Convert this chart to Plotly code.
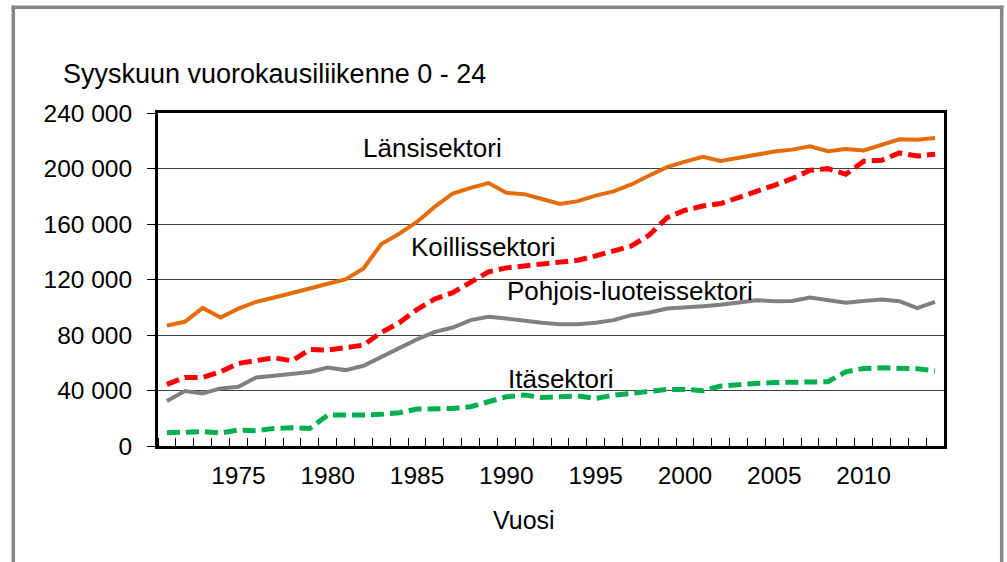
import plotly.graph_objects as go

years = list(range(1971, 2015))

lansi = [86900, 89500, 99500, 92600, 99000, 103900, 107000, 110000, 113500, 116900,
         120000, 128000, 145500, 153000, 161500, 172500, 182000, 186000, 189500, 182500,
         181500, 178000, 174500, 176500, 180500, 183500, 188500, 195000, 201000, 205000,
         208500, 205500, 207800, 210500, 212200, 213600, 216000, 212400, 214000, 213000,
         217200, 221000, 220800, 222000]
koillis = [44400, 49400, 49400, 53500, 59500, 61200, 63600, 61400, 69600, 69100,
           71300, 72700, 81800, 88800, 98400, 106000, 110500, 118300, 125500, 128400,
           129800, 131500, 132700, 133900, 137000, 140400, 144200, 152000, 164600, 169900,
           173000, 174700, 178800, 183100, 187900, 192700, 198700, 199900, 195800, 205200,
           205900, 211200, 209000, 210200]
pohjois = [32400, 39600, 37900, 41500, 42700, 49400, 50600, 52300, 53300, 56600,
           54700, 57800, 64300, 70100, 76800, 82300, 85400, 90700, 93100, 91900,
           90000, 88800, 87800, 87800, 88800, 90700, 94300, 96200, 99100, 100300,
           100800, 101800, 103200, 105100, 104400, 104500, 107000, 105100, 103200, 104500,
           105600, 104400, 99400, 103900]
ita = [9600, 10300, 10300, 9400, 11500, 11000, 12700, 13200, 12700, 22300,
       22100, 22300, 22800, 24000, 26600, 26600, 27100, 28300, 31900, 35500,
       36700, 35000, 35500, 36000, 34300, 36700, 37900, 39800, 40800, 40800,
       39800, 43200, 44600, 45100, 45800, 46100, 46800, 46300, 53500, 55900,
       56400, 56400, 55700, 54200]

x_tickvals = [1975, 1980, 1985, 1990, 1995, 2000, 2005, 2010]
x_ticktext = ["1975", "1980", "1985", "1990", "1995", "2000", "2005", "2010"]
y_tickvals = [0, 40000, 80000, 120000, 160000, 200000, 240000]
y_ticktext = ["0", "40 000", "80 000", "120 000", "160 000", "200 000", "240 000"]

title_text = "Syyskuun vuorokausiliikenne 0 - 24"
x_title = "Vuosi"
series_names = ["Länsisektori", "Koillissektori", "Pohjois-luoteissektori", "Itäsektori"]

W, H = 1007, 562
L, R, T, B = 158, 944, 112.5, 446
PW, PH = R - L, B - T


def px(x):
    return (x - L) / PW


def py(y):
    return (B - y) / PH


FONT = "Liberation Sans, Arial, sans-serif"

fig = go.Figure()
fig.add_trace(go.Scatter(x=years, y=lansi, mode="lines", name=series_names[0],
                         line=dict(color="#E46C0A", width=4)))
fig.add_trace(go.Scatter(x=years, y=koillis, mode="lines", name=series_names[1],
                         line=dict(color="#FF0000", width=5, dash="13px,6px")))
fig.add_trace(go.Scatter(x=years, y=pohjois, mode="lines", name=series_names[2],
                         line=dict(color="#808080", width=4)))
fig.add_trace(go.Scatter(x=years, y=ita, mode="lines", name=series_names[3],
                         line=dict(color="#00B050", width=5, dash="13px,6px")))

annos = []
annos.append(dict(text=title_text, x=px(61), y=py(73), xanchor="left", yanchor="middle",
                  font=dict(size=27)))
label_pos = [(432, 148), (483, 247), (630, 291), (560.5, 378.5)]
for name, (ax, ay) in zip(series_names, label_pos):
    annos.append(dict(text=name, x=px(ax), y=py(ay), xanchor="center", yanchor="middle",
                      font=dict(size=26)))
annos.append(dict(text=x_title, x=px(523.5), y=py(520.3), xanchor="center", yanchor="middle",
                  font=dict(size=25)))
for a in annos:
    a.update(xref="paper", yref="paper", showarrow=False)
    a["font"].update(family=FONT, color="black")

shapes = [
    dict(type="line", xref="paper", yref="paper", x0=px(13.3), x1=px(13.3), y0=py(5), y1=py(600),
         line=dict(color="#868686", width=3.5)),
    dict(type="line", xref="paper", yref="paper", x0=px(11.5), x1=px(1003.5), y0=py(6.7), y1=py(6.7),
         line=dict(color="#868686", width=3.5)),
    dict(type="line", xref="paper", yref="paper", x0=px(1001.7), x1=px(1001.7), y0=py(5), y1=py(600),
         line=dict(color="#868686", width=3.5)),
]

fig.update_layout(
    width=W, height=H,
    margin=dict(l=L, r=W - R, t=T, b=H - B, pad=0),
    paper_bgcolor="white", plot_bgcolor="white",
    showlegend=False,
    font=dict(family=FONT, size=24, color="black"),
    annotations=annos,
    shapes=shapes,
)
fig.update_xaxes(
    range=[1970.5, 2014.5], tickvals=x_tickvals, ticktext=x_ticktext,
    ticks="", showgrid=False, zeroline=False,
    showline=True, linecolor="black", linewidth=3, mirror=True,
    tickfont=dict(size=24.5, family=FONT, color="black"),
    minor=dict(ticks="inside", tick0=1970.5, dtick=1, ticklen=8, tickcolor="black",
               tickwidth=1, showgrid=False),
    ticklabelstandoff=6,
)
fig.update_yaxes(
    range=[0, 240000], tickvals=y_tickvals, ticktext=y_ticktext,
    ticks="outside", ticklen=8, tickcolor="black", tickwidth=1,
    showgrid=True, gridcolor="#404040", gridwidth=1, zeroline=False,
    showline=True, linecolor="black", linewidth=3, mirror=True,
    tickfont=dict(size=24.5, family=FONT, color="black"),
    ticklabelstandoff=10,
)

fig.write_html("out.html", config={"displayModeBar": False},
               post_script="document.body.style.margin='0';")
